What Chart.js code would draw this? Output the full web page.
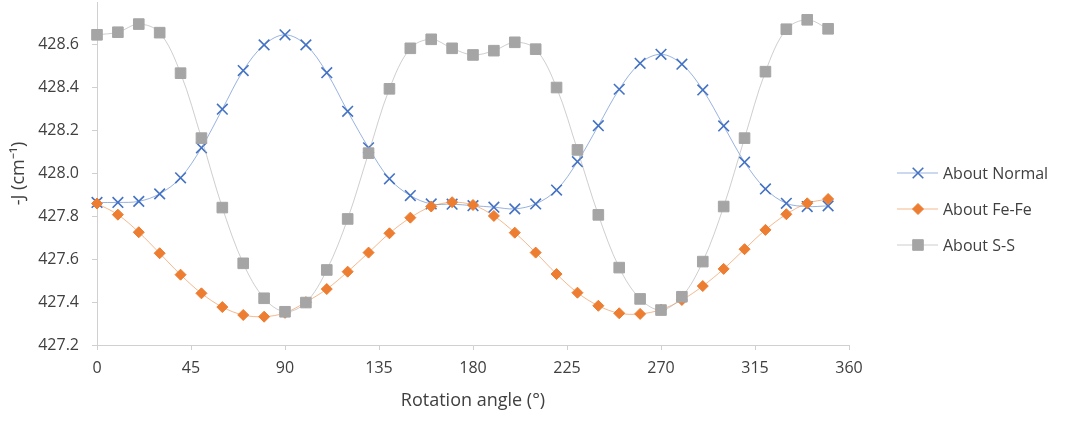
<!DOCTYPE html>
<html>
<head>
<meta charset="utf-8">
<script src="https://cdn.jsdelivr.net/npm/chart.js@4.4.1/dist/chart.umd.min.js"></script>
<style>
  html, body { margin: 0; padding: 0; background: #ffffff; }
  #wrap { width: 1066px; height: 422px; }
</style>
</head>
<body>
<div id="wrap"><canvas id="c" width="1066" height="422"></canvas></div>
<script>
// Rotation angle (degrees) of each sample
const angles = [0, 10, 20, 30, 40, 50, 60, 70, 80, 90, 100, 110, 120, 130, 140, 150, 160, 170,
                180, 190, 200, 210, 220, 230, 240, 250, 260, 270, 280, 290, 300, 310, 320, 330, 340, 350];

// -J (cm^-1) for each rotation axis
const aboutNormal = [427.865, 427.865, 427.870, 427.905, 427.980, 428.120, 428.300, 428.480, 428.600,
                     428.647, 428.600, 428.470, 428.290, 428.120, 427.975, 427.897, 427.858, 427.857,
                     427.850, 427.843, 427.835, 427.858, 427.923, 428.055, 428.223, 428.393, 428.514,
                     428.556, 428.510, 428.390, 428.222, 428.053, 427.928, 427.861, 427.846, 427.849];
const aboutFeFe = [427.860, 427.808, 427.726, 427.628, 427.528, 427.441, 427.377, 427.340, 427.332,
                   427.350, 427.400, 427.461, 427.542, 427.631, 427.721, 427.794, 427.846, 427.866,
                   427.853, 427.802, 427.724, 427.631, 427.531, 427.444, 427.383, 427.348, 427.345,
                   427.365, 427.410, 427.475, 427.555, 427.647, 427.737, 427.810, 427.861, 427.881];
const aboutSS = [428.647, 428.659, 428.697, 428.657, 428.468, 428.165, 427.841, 427.581, 427.418,
                 427.355, 427.398, 427.550, 427.788, 428.095, 428.395, 428.584, 428.626, 428.584,
                 428.553, 428.573, 428.612, 428.580, 428.401, 428.110, 427.807, 427.561, 427.415,
                 427.363, 427.425, 427.589, 427.846, 428.165, 428.475, 428.673, 428.717, 428.675];

// Axis tick labels
const xTickValues = [0, 45, 90, 135, 180, 225, 270, 315, 360];
const yTickValues = [427.2, 427.4, 427.6, 427.8, 428.0, 428.2, 428.4, 428.6];

const seriesNames = ['About Normal', 'About Fe-Fe', 'About S-S'];

const FONT = '"Open Sans", "Liberation Sans", sans-serif';
const TEXT = '#404040';
const AXIS = '#d0d0d0';

function toPoints(values) {
  return angles.map((a, i) => ({ x: a, y: values[i] }));
}

// Legend drawn to the right of the plot: short line with the series marker
const sideLegend = {
  id: 'sideLegend',
  afterDraw(chart) {
    const ctx = chart.ctx;
    const helpers = Chart.helpers;
    const x0 = 897, x1 = 938, xm = 918, xt = 943;
    const rows = [173, 209, 245];
    chart.data.datasets.forEach((ds, i) => {
      const y = rows[i];
      ctx.save();
      ctx.strokeStyle = ds.borderColor;
      ctx.lineWidth = ds.borderWidth;
      ctx.beginPath();
      ctx.moveTo(x0, y);
      ctx.lineTo(x1, y);
      ctx.stroke();
      ctx.fillStyle = ds.pointBackgroundColor;
      ctx.strokeStyle = ds.pointBorderColor;
      ctx.lineWidth = ds.pointBorderWidth;
      helpers.drawPoint(ctx, {
        pointStyle: ds.pointStyle,
        radius: ds.pointRadius,
        borderWidth: ds.pointBorderWidth,
        rotation: 0
      }, xm, y);
      ctx.fillStyle = TEXT;
      ctx.font = '16px ' + FONT;
      ctx.textBaseline = 'middle';
      ctx.textAlign = 'left';
      ctx.fillText(ds.label, xt, y + 1);
      ctx.restore();
    });
  }
};

const whiteBg = {
  id: 'whiteBg',
  beforeDraw(chart) {
    const ctx = chart.ctx;
    ctx.save();
    ctx.fillStyle = '#ffffff';
    ctx.fillRect(0, 0, chart.width, chart.height);
    ctx.restore();
  }
};

new Chart(document.getElementById('c'), {
  type: 'line',
  data: {
    datasets: [
      {
        label: seriesNames[0],
        data: toPoints(aboutNormal),
        order: 3,
        borderColor: 'rgba(68,114,196,0.55)',
        borderWidth: 1,
        tension: 0.35,
        pointStyle: 'crossRot',
        pointRadius: 7.5,
        pointBorderWidth: 1.6,
        pointBorderColor: '#4472C4',
        pointBackgroundColor: '#4472C4'
      },
      {
        label: seriesNames[1],
        data: toPoints(aboutFeFe),
        order: 2,
        borderColor: 'rgba(237,125,49,0.55)',
        borderWidth: 1,
        tension: 0.35,
        pointStyle: 'rectRot',
        pointRadius: 5.5,
        pointBorderWidth: 1,
        pointBorderColor: '#ED7D31',
        pointBackgroundColor: '#ED7D31'
      },
      {
        label: seriesNames[2],
        data: toPoints(aboutSS),
        order: 1,
        borderColor: 'rgba(165,165,165,0.55)',
        borderWidth: 1,
        tension: 0.35,
        pointStyle: 'rect',
        pointRadius: 7.5,
        pointBorderWidth: 1,
        pointBorderColor: '#A5A5A5',
        pointBackgroundColor: '#A5A5A5'
      }
    ]
  },
  options: {
    responsive: false,
    animation: false,
    devicePixelRatio: 1,
    clip: false,
    layout: { autoPadding: false, padding: { left: 0, right: 217, top: 2, bottom: 0 } },
    plugins: {
      legend: { display: false },
      tooltip: { enabled: false }
    },
    scales: {
      x: {
        type: 'linear',
        min: 0,
        max: 360,
        afterBuildTicks: s => { s.ticks = xTickValues.map(v => ({ value: v })); },
        afterFit: s => { s.height = 77; },
        ticks: {
          autoSkip: false,
          maxRotation: 0,
          padding: 9,
          color: TEXT,
          font: { family: FONT, size: 16 }
        },
        grid: { drawOnChartArea: false, drawTicks: true, tickLength: 5, color: AXIS },
        border: { color: AXIS, width: 1 },
        title: {
          display: true,
          text: 'Rotation angle (°)',
          color: TEXT,
          font: { family: FONT, size: 18 },
          padding: { top: 0, bottom: 10 }
        }
      },
      y: {
        type: 'linear',
        min: 427.2,
        max: 428.8,
        afterBuildTicks: s => { s.ticks = yTickValues.map(v => ({ value: v })); },
        afterFit: s => { s.width = 97; s.paddingTop = 0; s.paddingBottom = 0; },
        ticks: {
          padding: 13,
          color: TEXT,
          font: { family: FONT, size: 16 },
          callback: v => Number(v).toFixed(1)
        },
        grid: { drawOnChartArea: false, drawTicks: true, tickLength: 5, color: AXIS },
        border: { color: AXIS, width: 1 },
        title: {
          display: true,
          text: '-J (cm⁻¹)',
          color: TEXT,
          font: { family: FONT, size: 18 },
          padding: { top: 8, bottom: 0 }
        }
      }
    }
  },
  plugins: [whiteBg, sideLegend]
});
</script>
</body>
</html>
